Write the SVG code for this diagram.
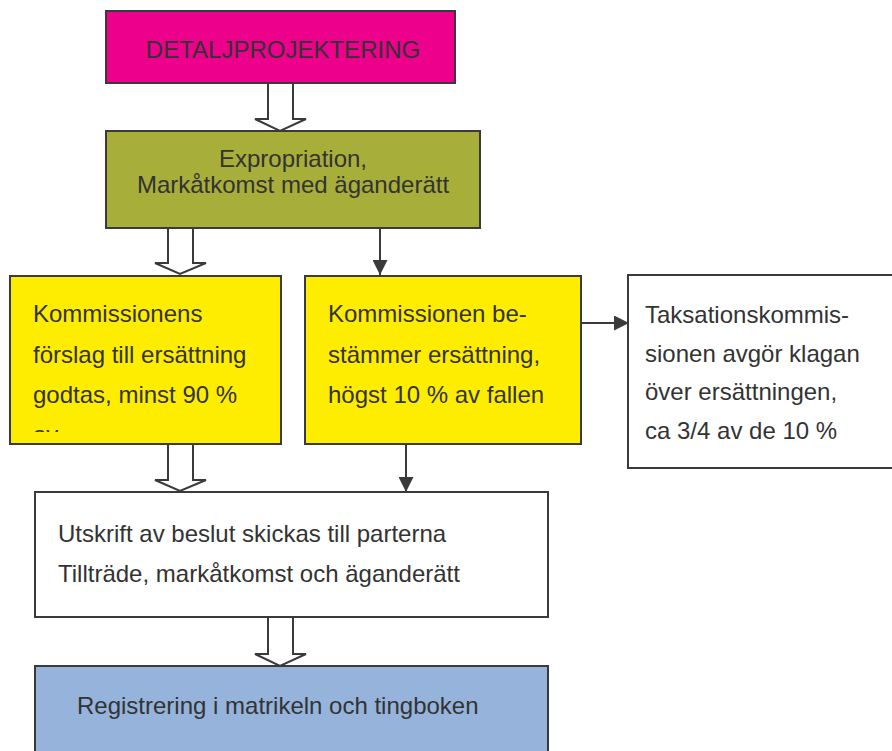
<svg xmlns="http://www.w3.org/2000/svg" width="892" height="751" viewBox="0 0 892 751">
<style>
.box{stroke:#3a3a3a;stroke-width:2}
.t{font-family:"Liberation Sans",Arial,sans-serif;font-size:24px;fill:#333333}
.c{text-anchor:middle}
.hollow{fill:#ffffff;stroke:#3a3a3a;stroke-width:2;stroke-linejoin:miter}
.solid{stroke:#3a3a3a;stroke-width:2;fill:none}
</style>
<defs>
<marker id="ah" viewBox="0 0 10 10" refX="10" refY="5" markerWidth="15" markerHeight="15" markerUnits="userSpaceOnUse" orient="auto">
<path d="M0,0 L10,5 L0,10 z" fill="#3a3a3a"/>
</marker>
<clipPath id="clip3"><rect x="10" y="276" width="271" height="156"/></clipPath>
</defs>
<rect width="892" height="751" fill="#ffffff"/>
<g id="connectors">
<path class="hollow" d="M268,83 V119 H255 L280,131 L306,119 H293 V83"/>
<path class="hollow" d="M168,228 V263 H155 L180,274 L206,263 H193 V228"/>
<path class="hollow" d="M168,444 V480 H155 L180,491 L206,480 H193 V444"/>
<path class="hollow" d="M268,617 V654 H255 L280,666 L306,654 H293 V617"/>
<line class="solid" x1="380" y1="228" x2="380" y2="275" marker-end="url(#ah)"/>
<line class="solid" x1="406" y1="444" x2="406" y2="492" marker-end="url(#ah)"/>
<line class="solid" x1="581" y1="323" x2="629" y2="323" marker-end="url(#ah)"/>
</g>
<g id="n1">
<rect class="box" x="106" y="11" width="349" height="72" fill="#EC008C"/>
<text class="t c" x="283" y="58">DETALJPROJEKTERING</text>
</g>
<g id="n2">
<rect class="box" x="106" y="131" width="374" height="97" fill="#A8AE3A"/>
<text class="t c" x="293" y="167">Expropriation,</text>
<text class="t c" x="293" y="193">Markåtkomst med äganderätt</text>
</g>
<g id="n3">
<rect class="box" x="10" y="276" width="271" height="168" fill="#FFED00"/>
<g clip-path="url(#clip3)">
<text class="t" x="33" y="322">Kommissionens</text>
<text class="t" x="33" y="363">förslag till ersättning</text>
<text class="t" x="33" y="403">godtas, minst 90 %</text>
<text class="t" x="33" y="443">av</text>
</g>
</g>
<g id="n4">
<rect class="box" x="305" y="276" width="276" height="168" fill="#FFED00"/>
<text class="t" x="328" y="322">Kommissionen be-</text>
<text class="t" x="328" y="363">stämmer ersättning,</text>
<text class="t" x="328" y="403">högst 10 % av fallen</text>
</g>
<g id="n5">
<rect class="box" x="628" y="275" width="280" height="193" fill="#ffffff"/>
<text class="t" x="645" y="323">Taksationskommis-</text>
<text class="t" x="645" y="362">sionen avgör klagan</text>
<text class="t" x="645" y="400">över ersättningen,</text>
<text class="t" x="645" y="439">ca 3/4 av de 10 %</text>
</g>
<g id="n6">
<rect class="box" x="35" y="492" width="513" height="125" fill="#ffffff"/>
<text class="t" x="58" y="542">Utskrift av beslut skickas till parterna</text>
<text class="t" x="58" y="582">Tillträde, markåtkomst och äganderätt</text>
</g>
<g id="n7">
<rect class="box" x="35" y="666" width="513" height="100" fill="#95B3DB"/>
<text class="t" x="77" y="714">Registrering i matrikeln och tingboken</text>
</g>
</svg>
